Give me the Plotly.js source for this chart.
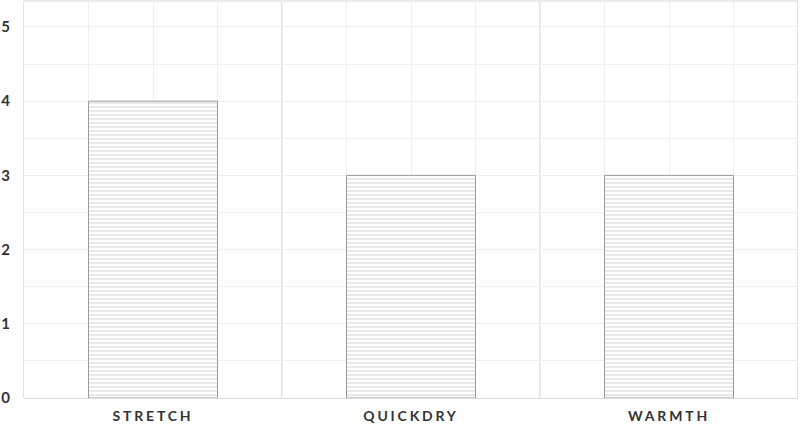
<!DOCTYPE html>
<html>
<head>
<meta charset="utf-8">
<script src="https://cdn.plot.ly/plotly-3.0.1.min.js"></script>
<style>
html,body{margin:0;padding:0;background:#fff;}
#chart{width:800px;height:424px;}
.xtick text{letter-spacing:2.8px;}
</style>
</head>
<body>
<div id="chart"></div>
<script>
const categories = ["STRETCH", "QUICKDRY", "WARMTH"];
const values = [4, 3, 3];
const positions = [0, 1, 2];
const yTicks = [0, 1, 2, 3, 4, 5];

const trace = {
  type: "bar",
  x: positions,
  y: values,
  width: 0.5,
  marker: {
    color: "#ffffff",
    line: {color: "#9a9a9a", width: 1},
    pattern: {shape: "-", fgcolor: "#d4d4d4", bgcolor: "#ffffff", size: 4, solidity: 0.25}
  },
  hoverinfo: "none"
};

const boundaryLines = [0.5, 1.5, 2.5].map(v => ({
  type: "line", xref: "x", yref: "paper", x0: v, x1: v, y0: 0, y1: 1,
  line: {color: "#d9d9d9", width: 1.5}, layer: "below"
}));

const layout = {
  width: 800, height: 424,
  margin: {l: 24, r: 2, t: 1, b: 26},
  paper_bgcolor: "#ffffff",
  plot_bgcolor: "#ffffff",
  showlegend: false,
  font: {family: "Lato, 'Open Sans', sans-serif", color: "#333333"},
  xaxis: {
    range: [-0.5, 2.5],
    tickmode: "array",
    tickvals: positions,
    ticktext: categories,
    showgrid: true,
    gridcolor: "#f0f0f0",
    gridwidth: 1,
    zeroline: false,
    showline: false,
    ticks: "outside",
    ticklen: 5,
    tickcolor: "rgba(0,0,0,0)",
    tickfont: {size: 14, color: "#333333", family: "Lato, sans-serif", weight: 700},
    minor: {tickmode: "linear", tick0: -0.5, dtick: 0.25, showgrid: true, gridcolor: "#f0f0f0", gridwidth: 1},
    fixedrange: true
  },
  yaxis: {
    range: [0, 5.35],
    tickmode: "array",
    tickvals: yTicks,
    showgrid: true,
    gridcolor: "#eeeeee",
    gridwidth: 1,
    zeroline: true,
    zerolinecolor: "#dddddd",
    zerolinewidth: 1,
    showline: true,
    linecolor: "#e4e4e4",
    linewidth: 1,
    mirror: false,
    ticks: "outside",
    ticklen: 10,
    tickcolor: "rgba(0,0,0,0)",
    tickfont: {size: 15, color: "#333333", family: "Lato, sans-serif", weight: 700},
    minor: {tickmode: "linear", tick0: 0, dtick: 0.5, showgrid: true, gridcolor: "#f0f0f0", gridwidth: 1},
    fixedrange: true
  },
  shapes: boundaryLines.concat([{
    type: "line", xref: "paper", yref: "paper", x0: 0, x1: 1, y0: 1, y1: 1,
    line: {color: "#e4e4e4", width: 1.5}, layer: "below"
  }]),
  bargap: 0.5
};

Plotly.newPlot("chart", [trace], layout, {displayModeBar: false, staticPlot: true});
</script>
</body>
</html>
